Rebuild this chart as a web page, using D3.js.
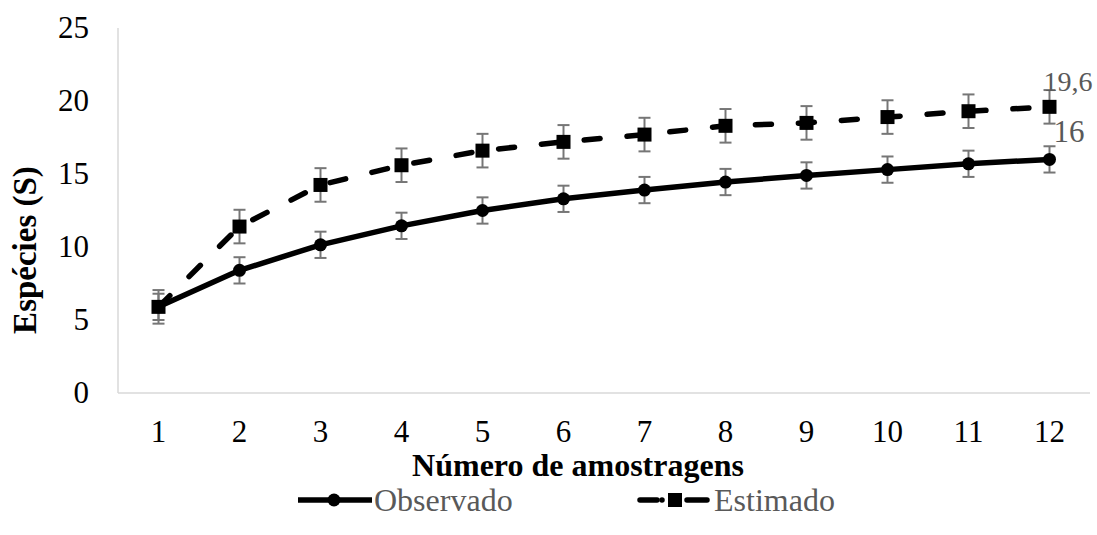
<!DOCTYPE html>
<html>
<head>
<meta charset="utf-8">
<script src="https://cdn.jsdelivr.net/npm/d3@7"></script>
<style>
  body { margin: 0; background: #fff; }
  text { font-family: "Liberation Serif", "Times New Roman", serif; }
</style>
</head>
<body>
<svg id="chart" width="1097" height="535"></svg>
<script>
// data
var amostras = [1, 2, 3, 4, 5, 6, 7, 8, 9, 10, 11, 12];
var observado = [5.9, 8.4, 10.15, 11.45, 12.5, 13.3, 13.9, 14.45, 14.9, 15.3, 15.7, 16.0];
var estimado = [5.9, 11.4, 14.25, 15.6, 16.6, 17.2, 17.7, 18.3, 18.5, 18.9, 19.3, 19.6];
var erroObs = [0.9, 0.9, 0.9, 0.9, 0.9, 0.9, 0.9, 0.9, 0.9, 0.9, 0.9, 0.9];
var erroEst = [1.15, 1.15, 1.15, 1.15, 1.15, 1.15, 1.15, 1.15, 1.15, 1.15, 1.15, 1.15];
var yTicks = [0, 5, 10, 15, 20, 25];
var rotulos = ['16', '19,6'];

var svg = d3.select('#chart');
var plotLeft = 118, plotRight = 1090, plotTop = 28, plotBottom = 393;
var fs = 31;

var x = d3.scaleBand().domain(amostras).range([plotLeft, plotRight]);
var y = d3.scaleLinear().domain([0, 25]).range([plotBottom, plotTop]);
var cx = d => x(d) + x.bandwidth() / 2;

//axes: light grey lines, no ticks
svg.append('line').attr('x1', plotLeft).attr('x2', plotLeft).attr('y1', plotTop).attr('y2', plotBottom)
  .attr('stroke', '#d9d9d9').attr('stroke-width', 1.5);
svg.append('line').attr('x1', plotLeft).attr('x2', plotRight).attr('y1', plotBottom).attr('y2', plotBottom)
  .attr('stroke', '#d9d9d9').attr('stroke-width', 1.5);

var yAxis = svg.append('g').attr('transform', 'translate(' + plotLeft + ',0)')
  .call(d3.axisLeft(y).tickValues(yTicks).tickSize(0).tickPadding(29));
yAxis.select('.domain').remove();
yAxis.selectAll('text').attr('font-size', fs).attr('fill', '#000')
  .attr('font-family', '"Liberation Serif", serif');

var xAxis = svg.append('g').attr('transform', 'translate(0,' + plotBottom + ')')
  .call(d3.axisBottom(x).tickSize(0).tickPadding(27));
xAxis.select('.domain').remove();
xAxis.selectAll('text').attr('font-size', fs).attr('fill', '#000')
  .attr('font-family', '"Liberation Serif", serif');

//axis titles
svg.append('text').attr('x', 578).attr('y', 476).attr('text-anchor', 'middle')
  .attr('font-size', 32).attr('font-weight', 'bold').text('Número de amostragens');
svg.append('text').attr('transform', 'translate(36,250) rotate(-90)')
  .attr('text-anchor', 'middle').attr('font-size', 33).attr('font-weight', 'bold')
  .text('Espécies (S)');

//error bars
function errorBars(vals, errs) {
  var g = svg.append('g').attr('stroke', '#767676').attr('stroke-width', 2);
  amostras.forEach(function (a, i) {
    var px = cx(a), lo = y(vals[i] - errs[i]), hi = y(vals[i] + errs[i]);
    g.append('line').attr('x1', px).attr('x2', px).attr('y1', lo).attr('y2', hi);
    g.append('line').attr('x1', px - 6).attr('x2', px + 6).attr('y1', lo).attr('y2', lo);
    g.append('line').attr('x1', px - 6).attr('x2', px + 6).attr('y1', hi).attr('y2', hi);
  });
}
errorBars(estimado, erroEst);
errorBars(observado, erroObs);

var line = d3.line().x((d, i) => cx(amostras[i])).y(d => y(d));

svg.append('path').datum(estimado).attr('d', line).attr('fill', 'none')
  .attr('stroke', '#000').attr('stroke-width', 5.5).attr('stroke-linecap', 'round')
  .attr('stroke-dasharray', '16 27');
svg.append('path').datum(observado).attr('d', line).attr('fill', 'none')
  .attr('stroke', '#000').attr('stroke-width', 5.5).attr('stroke-linejoin', 'round');

svg.selectAll('.sq').data(estimado).enter().append('rect').attr('class', 'sq')
  .attr('x', (d, i) => cx(amostras[i]) - 7).attr('y', d => y(d) - 7)
  .attr('width', 14).attr('height', 14).attr('fill', '#000');
svg.selectAll('.ci').data(observado).enter().append('circle').attr('class', 'ci')
  .attr('cx', (d, i) => cx(amostras[i])).attr('cy', d => y(d)).attr('r', 6.5).attr('fill', '#000');

//data labels for the last point
var last = amostras.length - 1;
svg.append('text').attr('x', cx(amostras[last]) + 4).attr('y', y(observado[last]) - 17)
  .attr('font-size', fs).attr('fill', '#595959').text(rotulos[0]);
svg.append('text').attr('x', cx(amostras[last]) - 6).attr('y', y(estimado[last]) - 16)
  .attr('font-size', 28).attr('fill', '#595959').text(rotulos[1]);

//legend
var lfs = 32;
var lg = svg.append('g').attr('transform', 'translate(0,500)');
lg.append('line').attr('x1', 298).attr('x2', 372).attr('stroke', '#000').attr('stroke-width', 5.5);
lg.append('circle').attr('cx', 334).attr('r', 6.5).attr('fill', '#000');
lg.append('text').attr('x', 374).attr('y', 11).attr('font-size', lfs).attr('fill', '#595959').text('Observado');
lg.append('line').attr('x1', 640).attr('x2', 657).attr('stroke', '#000').attr('stroke-width', 5.5)
  .attr('stroke-linecap', 'round');
lg.append('line').attr('x1', 662).attr('x2', 707).attr('stroke', '#000').attr('stroke-width', 5.5)
  .attr('stroke-linecap', 'round').attr('stroke-dasharray', '0 25 20');
lg.append('rect').attr('x', 668).attr('y', -7).attr('width', 14).attr('height', 14).attr('fill', '#000');
lg.append('text').attr('x', 714).attr('y', 11).attr('font-size', lfs).attr('fill', '#595959').text('Estimado');
</script>
</body>
</html>
